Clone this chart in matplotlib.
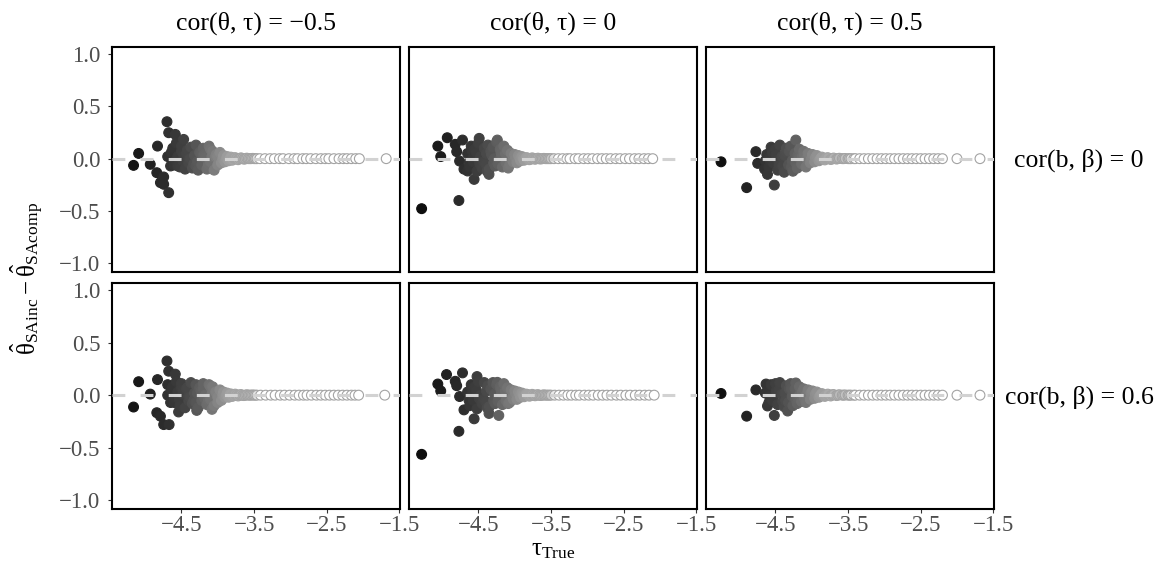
import numpy as np
import matplotlib
matplotlib.use("Agg")
import matplotlib.pyplot as plt

plt.rcParams['font.family'] = ['Liberation Serif', 'DejaVu Serif']
plt.rcParams['mathtext.fontset'] = 'custom'
plt.rcParams['mathtext.rm'] = 'Liberation Serif'
plt.rcParams['mathtext.it'] = 'Liberation Serif'
plt.rcParams['mathtext.bf'] = 'Liberation Serif:bold'

# Facet labels and axis ticks
col_labels = ['cor(θ, τ) = −0.5', 'cor(θ, τ) = 0', 'cor(θ, τ) = 0.5']
row_labels = ['cor(b, β) = 0', 'cor(b, β) = 0.6']
x_ticks = [-4.5, -3.5, -2.5, -1.5]
x_ticklabels = ['−4.5', '−3.5', '−2.5', '−1.5']
y_ticks = [-1.0, -0.5, 0.0, 0.5, 1.0]
y_ticklabels = ['−1.0', '−0.5', '0.0', '0.5', '1.0']

# Panel row 0, col 0
tau_00 = [-4.70, -4.676, -4.585, -4.47, -4.83, -5.09, -5.16, -4.93, -4.84, -4.745, -4.79, -4.745, -4.676, -4.65, -4.69, -4.55,
          -4.62, -4.60, -4.57, -4.55, -4.52, -4.50, -4.47, -4.45, -4.42, -4.40, -4.37, -4.35, -4.32, -4.30, -4.27, -4.25,
          -4.22, -4.20, -4.17, -4.15, -4.12, -4.10, -4.07, -4.05, -4.02, -4.00, -3.97, -3.95, -3.92, -3.90, -3.87, -3.85,
          -3.82, -3.80, -3.76, -3.72, -3.68, -3.64, -3.60, -3.56, -3.52, -3.48, -4.58, -4.48, -4.38, -4.28, -4.18, -4.08,
          -4.64, -4.53, -4.43, -4.33, -4.23, -4.13, -4.03, -3.93, -4.60, -4.50, -4.40, -4.30, -4.20, -4.10, -4.00, -3.88,
          -3.83, -3.78, -3.74, -3.70, -3.66, -3.62, -3.58, -3.54, -3.50, -3.46,
          -3.42, -3.35, -3.28, -3.22, -3.15, -3.10, -3.02, -2.95, -2.90, -2.83, -2.78, -2.72, -2.65, -2.58, -2.52, -2.47,
          -2.40, -2.33, -2.27, -2.22, -2.16, -2.10, -2.05, -1.68]
diff_00 = [0.353, 0.248, 0.232, 0.184, 0.12, 0.05, -0.064, -0.054, -0.134, -0.175, -0.229, -0.245, -0.325, -0.07, 0.02, -0.07,
           0.10, -0.06, 0.15, 0.02, -0.08, 0.12, 0.04, -0.10, 0.08, -0.04, 0.11, -0.09, 0.03, 0.13, -0.11, 0.06,
           -0.06, 0.10, 0.01, -0.10, 0.12, -0.03, 0.07, -0.11, 0.04, -0.06, 0.06, -0.04, 0.03, -0.03, 0.02, -0.02,
           0.015, -0.015, 0.01, -0.01, 0.008, -0.005, 0.005, 0.0, 0.003, 0.0, -0.02, -0.02, 0.0, -0.03, 0.04, 0.02,
           0.06, -0.05, 0.05, -0.05, 0.05, -0.06, 0.02, 0.0, -0.03, 0.07, 0.0, -0.07, 0.03, 0.09, 0.02, 0.0,
           -0.005, 0.005, 0.0, 0.0, 0.002, -0.002, 0.0, 0.0, 0.0, 0.0,
           0.0, 0.0, 0.0, 0.0, 0.0, 0.0, 0.0, 0.0, 0.0, 0.0, 0.0, 0.0, 0.0, 0.0, 0.0, 0.0,
           0.0, 0.0, 0.0, 0.0, 0.0, 0.0, 0.0, 0.0]

# Panel row 0, col 1
tau_01 = [-5.283, -4.77, -4.93, -5.06, -5.02, -4.82, -4.72, -4.80, -4.76, -4.70, -4.65, -4.56, -4.49, -4.355, -4.24,
          -4.65, -4.62, -4.60, -4.57, -4.55, -4.52, -4.50, -4.47, -4.45, -4.42, -4.40, -4.37, -4.35, -4.32, -4.30, -4.27,
          -4.25, -4.22, -4.20, -4.17, -4.15, -4.12, -4.10, -4.07, -4.05, -4.02, -4.00, -3.97, -3.95, -3.92, -3.90, -3.87,
          -3.84, -3.80, -3.76, -3.72, -3.68, -3.64, -3.60, -3.56, -3.52, -4.58, -4.48, -4.38, -4.28, -4.18,
          -4.63, -4.53, -4.43, -4.33, -4.23, -4.13, -4.03, -3.93, -4.59, -4.49, -4.39, -4.29, -4.19, -4.09, -3.99, -3.88,
          -3.82, -3.78, -3.74, -3.70, -3.66, -3.62, -3.58, -3.54, -3.50,
          -3.46, -3.40, -3.34, -3.28, -3.24, -3.17, -3.12, -3.05, -2.99, -2.93, -2.86, -2.80, -2.74, -2.68, -2.61, -2.55,
          -2.48, -2.42, -2.35, -2.29, -2.22, -2.16, -2.10]
diff_01 = [-0.478, -0.40, 0.20, 0.12, 0.02, 0.137, 0.178, 0.067, -0.023, -0.10, -0.118, -0.198, 0.194, -0.15, 0.178,
           0.05, -0.08, 0.12, -0.03, 0.09, -0.12, 0.15, 0.02, -0.09, 0.10, -0.05, 0.13, -0.10, 0.04, 0.11, -0.07,
           0.16, -0.02, 0.09, -0.08, 0.12, -0.04, 0.08, -0.06, 0.05, -0.03, 0.04, -0.04, 0.03, -0.02, 0.02, -0.015,
           0.01, -0.01, 0.008, -0.006, 0.005, -0.003, 0.003, 0.0, 0.0, 0.0, -0.05, -0.12, 0.0, 0.03,
           -0.04, 0.06, -0.03, 0.07, -0.05, 0.05, -0.02, 0.01, 0.08, -0.02, 0.05, -0.04, 0.06, -0.09, 0.01, 0.0,
           0.005, -0.005, 0.0, 0.002, -0.002, 0.0, 0.0, 0.0, 0.0,
           0.0, 0.0, 0.0, 0.0, 0.0, 0.0, 0.0, 0.0, 0.0, 0.0, 0.0, 0.0, 0.0, 0.0, 0.0, 0.0,
           0.0, 0.0, 0.0, 0.0, 0.0, 0.0, 0.0]

# Panel row 0, col 2
tau_02 = [-5.25, -4.897, -4.516, -4.77, -4.745, -4.61, -4.22, -4.65,
          -4.62, -4.59, -4.56, -4.53, -4.50, -4.47, -4.44, -4.41, -4.38, -4.35, -4.32, -4.29, -4.26, -4.23, -4.20, -4.17,
          -4.14, -4.11, -4.08, -4.05, -4.02, -3.99, -3.96, -3.93, -3.90, -3.86, -3.82, -3.78, -3.74, -3.70, -3.66, -3.62,
          -3.58, -3.54, -3.50, -3.46, -3.42, -4.57, -4.47, -4.37, -4.27, -4.17, -4.07,
          -4.64, -4.54, -4.45, -4.36, -4.28, -4.19, -4.10, -4.01, -4.58, -4.49, -4.40, -4.31, -4.22, -4.13, -3.95, -3.88,
          -3.80, -3.72, -3.64, -3.56, -3.48, -3.40,
          -3.34, -3.28, -3.22, -3.16, -3.10, -3.04, -2.98, -2.92, -2.86, -2.80, -2.74, -2.68, -2.62, -2.56, -2.50, -2.44,
          -2.38, -2.32, -2.26, -2.20, -2.00, -1.683]
diff_02 = [-0.03, -0.277, -0.252, 0.067, -0.045, -0.15, 0.178, -0.10,
           0.04, -0.08, 0.11, -0.04, 0.09, -0.11, 0.13, 0.02, -0.13, 0.10, -0.06, 0.12, -0.12, 0.05, -0.09, 0.09,
           -0.05, 0.07, -0.08, 0.05, -0.04, 0.04, -0.03, 0.03, -0.02, 0.015, -0.012, 0.01, -0.008, 0.006, -0.004, 0.004,
           0.0, 0.002, 0.0, 0.0, 0.0, -0.02, 0.0, 0.03, -0.02, 0.01, 0.0,
           -0.02, 0.06, -0.06, 0.06, -0.08, 0.03, 0.03, -0.01, 0.01, 0.04, -0.07, 0.07, -0.04, 0.02, 0.01, 0.0,
           0.004, -0.003, 0.0, 0.0, 0.0, 0.0,
           0.0, 0.0, 0.0, 0.0, 0.0, 0.0, 0.0, 0.0, 0.0, 0.0, 0.0, 0.0, 0.0, 0.0, 0.0, 0.0,
           0.0, 0.0, 0.0, 0.0, 0.0, 0.0]

# Panel row 1, col 0
tau_10 = [-4.70, -4.676, -4.585, -5.09, -4.83, -4.93, -5.16, -4.84, -4.79, -4.745, -4.67, -4.54, -4.65, -4.69, -4.69, -4.08, -4.29,
          -4.62, -4.60, -4.57, -4.55, -4.52, -4.50, -4.47, -4.45, -4.42, -4.40, -4.37, -4.35, -4.32, -4.30, -4.27, -4.25,
          -4.22, -4.20, -4.17, -4.15, -4.12, -4.10, -4.07, -4.05, -4.02, -4.00, -3.97, -3.95, -3.92, -3.90, -3.87, -3.85,
          -3.82, -3.80, -3.76, -3.72, -3.68, -3.64, -3.60, -3.56, -3.52, -3.48, -4.58, -4.48, -4.38, -4.28, -4.18, -4.08,
          -4.64, -4.53, -4.43, -4.33, -4.23, -4.13, -4.03, -3.93, -4.60, -4.50, -4.40, -4.30, -4.20, -4.10, -4.00, -3.88,
          -3.83, -3.78, -3.74, -3.70, -3.66, -3.62, -3.58, -3.54, -3.50, -3.46,
          -3.41, -3.34, -3.27, -3.21, -3.14, -3.08, -3.01, -2.94, -2.88, -2.82, -2.77, -2.71, -2.64, -2.58, -2.52, -2.46,
          -2.40, -2.34, -2.28, -2.22, -2.16, -2.11, -2.06, -1.70]
diff_10 = [0.325, 0.228, 0.20, 0.128, 0.148, 0.01, -0.113, -0.167, -0.20, -0.28, -0.28, -0.16, -0.07, 0.10, 0.0, -0.135, -0.145,
           0.08, -0.07, 0.13, 0.03, -0.10, 0.11, 0.05, -0.12, 0.07, -0.05, 0.12, -0.08, 0.02, 0.10, -0.12, 0.07,
           -0.05, 0.11, 0.0, -0.09, 0.10, -0.04, 0.08, -0.10, 0.03, -0.07, 0.05, -0.05, 0.03, -0.02, 0.02, -0.02,
           0.012, -0.012, 0.01, -0.008, 0.006, -0.004, 0.004, 0.0, 0.002, 0.0, -0.03, 0.01, -0.02, 0.02, -0.03, 0.01,
           0.05, -0.04, 0.06, -0.05, 0.04, -0.05, 0.03, 0.0, -0.02, 0.07, -0.01, -0.07, 0.06, 0.08, -0.02, 0.0,
           0.005, -0.004, 0.0, 0.002, -0.002, 0.0, 0.0, 0.0, 0.0, 0.0,
           0.0, 0.0, 0.0, 0.0, 0.0, 0.0, 0.0, 0.0, 0.0, 0.0, 0.0, 0.0, 0.0, 0.0, 0.0, 0.0,
           0.0, 0.0, 0.0, 0.0, 0.0, 0.0, 0.0, 0.0]

# Panel row 1, col 1
tau_11 = [-5.283, -4.77, -4.94, -4.72, -5.06, -5.02, -4.82, -4.80, -4.76, -4.70, -4.56, -4.52, -4.355, -4.22, -4.24,
          -4.65, -4.62, -4.60, -4.57, -4.55, -4.52, -4.50, -4.47, -4.45, -4.42, -4.40, -4.37, -4.35, -4.32, -4.30, -4.27,
          -4.25, -4.22, -4.20, -4.17, -4.15, -4.12, -4.10, -4.07, -4.05, -4.02, -4.00, -3.97, -3.95, -3.92, -3.90, -3.87,
          -3.84, -3.80, -3.76, -3.72, -3.68, -3.64, -3.60, -3.56, -3.52, -4.58, -4.48, -4.38, -4.28, -4.18,
          -4.63, -4.53, -4.43, -4.33, -4.23, -4.13, -4.03, -3.93, -4.59, -4.49, -4.39, -4.29, -4.19, -4.09, -3.99, -3.88,
          -3.82, -3.78, -3.74, -3.70, -3.66, -3.62, -3.58, -3.54, -3.50,
          -3.45, -3.39, -3.33, -3.27, -3.22, -3.16, -3.11, -3.04, -2.98, -2.92, -2.85, -2.79, -2.73, -2.67, -2.60, -2.54,
          -2.47, -2.41, -2.34, -2.28, -2.21, -2.15, -2.08]
diff_11 = [-0.563, -0.344, 0.196, 0.212, 0.106, 0.04, 0.132, 0.09, -0.013, -0.14, -0.225, 0.177, -0.174, -0.193, 0.122,
           0.03, -0.10, 0.10, -0.05, 0.08, -0.13, 0.13, 0.0, -0.08, 0.12, -0.06, 0.09, -0.11, 0.05, 0.12, -0.08,
           0.10, -0.03, 0.08, -0.09, 0.11, -0.05, 0.07, -0.07, 0.05, -0.04, 0.04, -0.04, 0.03, -0.02, 0.02, -0.015,
           0.01, -0.01, 0.008, -0.006, 0.005, -0.003, 0.003, 0.0, 0.0, 0.02, -0.03, -0.12, 0.01, 0.02,
           -0.05, 0.05, -0.04, 0.06, -0.06, 0.04, -0.02, 0.01, 0.07, -0.03, 0.04, -0.05, 0.05, -0.08, 0.02, 0.0,
           0.005, -0.005, 0.0, 0.002, -0.002, 0.0, 0.0, 0.0, 0.0,
           0.0, 0.0, 0.0, 0.0, 0.0, 0.0, 0.0, 0.0, 0.0, 0.0, 0.0, 0.0, 0.0, 0.0, 0.0, 0.0,
           0.0, 0.0, 0.0, 0.0, 0.0, 0.0, 0.0]

# Panel row 1, col 2
tau_12 = [-5.25, -4.897, -4.516, -4.77, -4.61, -4.63, -4.22, -4.332,
          -4.62, -4.59, -4.56, -4.53, -4.50, -4.47, -4.44, -4.41, -4.38, -4.35, -4.32, -4.29, -4.26, -4.23, -4.20, -4.17,
          -4.14, -4.11, -4.08, -4.05, -4.02, -3.99, -3.96, -3.93, -3.90, -3.86, -3.82, -3.78, -3.74, -3.70, -3.66, -3.62,
          -3.58, -3.54, -3.50, -3.46, -3.42, -4.57, -4.47, -4.37, -4.27, -4.17, -4.07,
          -4.64, -4.54, -4.45, -4.36, -4.28, -4.19, -4.10, -4.01, -4.58, -4.49, -4.40, -4.31, -4.22, -4.13, -3.95, -3.88,
          -3.80, -3.72, -3.64, -3.56, -3.48, -3.40,
          -3.34, -3.28, -3.22, -3.16, -3.10, -3.04, -2.98, -2.92, -2.86, -2.80, -2.74, -2.68, -2.62, -2.56, -2.50, -2.44,
          -2.38, -2.32, -2.26, -2.20, -2.00, -1.683]
diff_12 = [0.016, -0.20, -0.193, 0.05, -0.103, 0.106, 0.116, -0.151,
           0.03, -0.07, 0.10, -0.05, 0.11, -0.09, 0.12, 0.01, -0.11, 0.09, -0.07, 0.11, -0.10, 0.06, -0.08, 0.08,
           -0.06, 0.06, -0.07, 0.05, -0.04, 0.04, -0.03, 0.03, -0.02, 0.015, -0.012, 0.01, -0.008, 0.006, -0.004, 0.004,
           0.0, 0.002, 0.0, 0.0, 0.0, -0.03, 0.02, 0.02, -0.01, 0.0, 0.01,
           0.02, -0.05, 0.05, -0.05, 0.06, -0.03, -0.03, 0.02, -0.01, 0.04, -0.06, 0.06, -0.04, 0.03, 0.01, 0.0,
           -0.003, 0.003, 0.0, 0.0, 0.0, 0.0,
           0.0, 0.0, 0.0, 0.0, 0.0, 0.0, 0.0, 0.0, 0.0, 0.0, 0.0, 0.0, 0.0, 0.0, 0.0, 0.0,
           0.0, 0.0, 0.0, 0.0, 0.0, 0.0]

panels = [[(tau_00, diff_00), (tau_01, diff_01), (tau_02, diff_02)],
          [(tau_10, diff_10), (tau_11, diff_11), (tau_12, diff_12)]]

########################################################################

W, H = 1163, 565
fig = plt.figure(figsize=(W / 100, H / 100), dpi=100)

col_px = [(112, 400), (409, 697), (706, 994)]
row_px = [(47, 272), (283, 509)]


def box(l, t, r, b):
    return [l / W, 1 - b / H, (r - l) / W, (b - t) / H]


def grey_level(t):
    # black for small tau, white for large tau
    return np.interp(t, [-5.3, -4.7, -4.4, -4.1, -3.8, -3.5, -3.42],
                     [0.05, 0.18, 0.28, 0.45, 0.66, 0.78, 1.0])


for i in range(2):
    for j in range(3):
        ax = fig.add_axes(box(col_px[j][0], row_px[i][0], col_px[j][1], row_px[i][1]))
        tau, diff = panels[i][j]
        tau = np.array(tau)
        diff = np.array(diff)
        order = np.argsort(tau)
        g = grey_level(tau[order])
        e = np.minimum(g, 0.64)
        ax.scatter(tau[order], diff[order], s=50,
                   c=np.stack([g, g, g], axis=1),
                   edgecolors=np.stack([e, e, e], axis=1),
                   linewidths=0.8, zorder=2)
        ax.axhline(0, color='#d2d2d2', lw=2.2, dashes=(4.2, 5), zorder=3)

        ax.set_xlim(-5.457, -1.49)
        ax.set_ylim(-1.083, 1.067)
        for sp in ax.spines.values():
            sp.set_linewidth(1.5)
            sp.set_color('black')

        ax.tick_params(direction='out', length=3, width=0.8, color='#333333',
                       labelcolor='#4D4D4D', labelsize=16.5)
        ax.tick_params(axis='y', pad=5.5)
        ax.tick_params(axis='x', pad=1.5)
        ax.set_xticks(x_ticks)
        ax.set_xticklabels(x_ticklabels)
        ax.set_yticks(y_ticks)
        ax.set_yticklabels(y_ticklabels)
        if j > 0:
            ax.tick_params(axis='y', left=False, labelleft=False)
        if i == 0:
            ax.tick_params(axis='x', bottom=False, labelbottom=False)

        if i == 0:
            cx = (col_px[j][0] + col_px[j][1]) / 2
            fig.text(cx / W, 1 - 30 / H, col_labels[j], ha='center', va='baseline',
                     fontsize=18.5, color='black')
    cy = (row_px[i][0] + row_px[i][1]) / 2
    fig.text(1079 / W, 1 - (cy + 7.5) / H, row_labels[i], ha='center', va='baseline',
             fontsize=18.5, color='black')

fig.text(27 / W, 1 - 278 / H, r'$\hat{\theta}_{\mathrm{SAinc}} - \hat{\theta}_{\mathrm{SAcomp}}$',
         rotation=90, ha='center', va='center', fontsize=18)
fig.text(553 / W, 1 - 550 / H, r'$\tau_{\mathrm{True}}$', ha='center', va='center', fontsize=18)

plt.savefig('out.png', dpi=100)
